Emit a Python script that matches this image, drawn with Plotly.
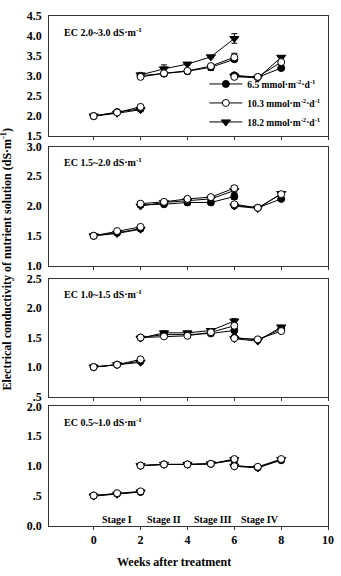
import plotly.graph_objects as go

W, H = 341, 576

# ---- data ----
weeks_s1 = [0, 1, 2]
weeks_s2 = [2, 3, 4, 5, 6]
weeks_s3 = [6, 7, 8]

series_names = ["6.5 mmol·m<sup>-2</sup>·d<sup>-1</sup>",
                "10.3 mmol·m<sup>-2</sup>·d<sup>-1</sup>",
                "18.2 mmol·m<sup>-2</sup>·d<sup>-1</sup>"]

panel_titles = ["EC 2.0~3.0 dS·m<sup>-1</sup>", "EC 1.5~2.0 dS·m<sup>-1</sup>",
                "EC 1.0~1.5 dS·m<sup>-1</sup>", "EC 0.5~1.0 dS·m<sup>-1</sup>"]

# Panel 1 (EC 2.0~3.0)
p1_s1 = [[2.00, 2.10, 2.18], [2.00, 2.09, 2.23], [2.00, 2.07, 2.16]]
p1_s2 = [[3.01, 3.06, 3.12, 3.22, 3.42], [2.98, 3.07, 3.13, 3.25, 3.47], [3.03, 3.18, 3.30, 3.48, 3.94]]
p1_s3 = [[3.02, 2.97, 3.20], [2.98, 2.98, 3.35], [3.00, 2.95, 3.47]]
p1_e2 = [[0.03, 0.07, 0.03, 0.08, 0.05], [0.03, 0.05, 0.03, 0.03, 0.10], [0.03, 0.10, 0.03, 0.03, 0.12]]
# Panel 2 (EC 1.5~2.0)
p2_s1 = [[1.50, 1.55, 1.62], [1.50, 1.58, 1.65], [1.50, 1.54, 1.61]]
p2_s2 = [[2.02, 2.03, 2.06, 2.06, 2.16], [2.04, 2.07, 2.12, 2.15, 2.30], [2.00, 2.06, 2.09, 2.12, 2.26]]
p2_s3 = [[2.01, 1.97, 2.12], [2.03, 1.97, 2.20], [2.00, 1.96, 2.21]]
p2_e2 = [[0.02, 0.03, 0.04, 0.02, 0.05], [0.02, 0.04, 0.02, 0.02, 0.04], [0.02, 0.03, 0.02, 0.02, 0.04]]
# Panel 3 (EC 1.0~1.5)
p3_s1 = [[1.00, 1.04, 1.10], [1.00, 1.04, 1.13], [1.00, 1.04, 1.08]]
p3_s2 = [[1.50, 1.55, 1.55, 1.57, 1.62], [1.50, 1.52, 1.53, 1.59, 1.70], [1.49, 1.58, 1.58, 1.62, 1.78]]
p3_s3 = [[1.50, 1.46, 1.65], [1.49, 1.47, 1.61], [1.48, 1.44, 1.68]]
p3_e2 = [[0.02, 0.02, 0.02, 0.02, 0.03], [0.02, 0.02, 0.02, 0.02, 0.04], [0.02, 0.03, 0.02, 0.02, 0.04]]
# Panel 4 (EC 0.5~1.0)
p4_s1 = [[0.51, 0.54, 0.57], [0.51, 0.55, 0.58], [0.50, 0.53, 0.57]]
p4_s2 = [[1.01, 1.03, 1.03, 1.04, 1.10], [1.01, 1.03, 1.03, 1.04, 1.12], [1.01, 1.03, 1.03, 1.04, 1.11]]
p4_s3 = [[1.01, 0.98, 1.10], [1.00, 0.99, 1.12], [1.00, 0.97, 1.11]]
p4_e2 = [[0.01, 0.01, 0.01, 0.01, 0.03], [0.01, 0.01, 0.01, 0.01, 0.03], [0.01, 0.01, 0.01, 0.01, 0.03]]

y_ticks = [[1.5, 2.0, 2.5, 3.0, 3.5, 4.0, 4.5], [1.0, 1.5, 2.0, 2.5, 3.0],
           [0.5, 1.0, 1.5, 2.0, 2.5], [0.0, 0.5, 1.0, 1.5, 2.0]]
y_ticktext = [["1.5", "2.0", "2.5", "3.0", "3.5", "4.0", "4.5"], ["1.0", "1.5", "2.0", "2.5", "3.0"],
              [".5", "1.0", "1.5", "2.0", "2.5"], ["0.0", ".5", "1.0", "1.5", "2.0"]]
x_ticks = [0, 2, 4, 6, 8, 10]
stage_labels = ["Stage I", "Stage II", "Stage III", "Stage IV"]
stage_pos = [1.0, 3.0, 5.1, 7.1]

panels = [(p1_s1, p1_s2, p1_s3, p1_e2), (p2_s1, p2_s2, p2_s3, p2_e2),
          (p3_s1, p3_s2, p3_s3, p3_e2), (p4_s1, p4_s2, p4_s3, p4_e2)]

# ---- layout geometry (pixels) ----
x_left, x_right = 50, 334
panel_px = [(9.3, 132.3), (143, 265), (278.3, 399.3), (409.3, 532)]
FONT = "Liberation Serif"

markers = [dict(symbol="circle", size=7, color="black", line=dict(color="black", width=1)),
           dict(symbol="circle", size=7, color="white", line=dict(color="black", width=1)),
           dict(symbol="triangle-down", size=8, color="black", line=dict(color="black", width=1))]

fig = go.Figure()
order = [2, 0, 1]
for pi, (s1, s2, s3, e2) in enumerate(panels):
    xa = "x" if pi == 0 else f"x{pi+1}"
    ya = "y" if pi == 0 else f"y{pi+1}"
    for k in order:
        for seg, (xs, ys) in enumerate([(weeks_s1, s1[k]), (weeks_s2, s2[k]), (weeks_s3, s3[k])]):
            err = None
            if seg == 1:
                err = dict(type="data", array=e2[k], color="black", thickness=1, width=3)
            fig.add_trace(go.Scatter(
                x=xs, y=ys, mode="lines+markers", xaxis=xa, yaxis=ya,
                line=dict(color="black", width=1), marker=markers[k],
                error_y=err, name=series_names[k],
                showlegend=(pi == 0 and seg == 0), legendrank=k + 1,
            ))

layout = dict(width=W, height=H, margin=dict(l=0, r=0, t=0, b=0),
              paper_bgcolor="white", plot_bgcolor="white",
              font=dict(family=FONT, color="black", size=12, weight="bold"),
              legend=dict(x=208 / W, y=1 - 64 / H, xanchor="left", yanchor="top",
                          bgcolor="rgba(0,0,0,0)", borderwidth=0,
                          font=dict(size=9.5, family=FONT, weight="bold"),
                          itemwidth=33, tracegroupgap=0, traceorder="normal"),
              annotations=[], showlegend=True)

for pi in range(4):
    top, bot = panel_px[pi]
    suffix = "" if pi == 0 else str(pi + 1)
    layout["xaxis" + suffix] = dict(
        domain=[x_left / W, x_right / W], range=[-1.9, 10], anchor="y" + suffix,
        tickvals=x_ticks, ticktext=[str(t) for t in x_ticks], showticklabels=(pi == 3),
        ticks="outside", ticklen=3, tickcolor="#333", showline=True, linecolor="#333",
        linewidth=1, mirror=True, showgrid=False, zeroline=False,
        tickfont=dict(size=12, family=FONT, weight="bold"),
    )
    layout["yaxis" + suffix] = dict(
        domain=[1 - bot / H, 1 - top / H], range=[y_ticks[pi][0], y_ticks[pi][-1]],
        anchor="x" + suffix, tickvals=y_ticks[pi], ticktext=y_ticktext[pi],
        ticks="", showline=True, linecolor="#333", linewidth=1, mirror=True,
        showgrid=False, zeroline=False, ticklabelstandoff=4,
        tickfont=dict(size=12, family=FONT, weight="bold"),
    )
    layout["annotations"].append(dict(
        text=panel_titles[pi], xref="paper", yref="paper",
        x=63 / W, y=1 - (top + 16) / H, xanchor="left", yanchor="middle",
        showarrow=False, font=dict(size=10, family=FONT, weight="bold")))

for lab, pos in zip(stage_labels, stage_pos):
    layout["annotations"].append(dict(
        text=lab, xref="x4", yref="y4", x=pos, y=0.0, yshift=7, xanchor="center",
        yanchor="middle", showarrow=False, font=dict(size=10, family=FONT, weight="bold")))

layout["annotations"].append(dict(
    text="Weeks after treatment", xref="paper", yref="paper", x=177 / W, y=1 - 569 / H,
    xanchor="center", yanchor="middle", showarrow=False,
    font=dict(size=12, family=FONT, weight="bold")))
layout["annotations"].append(dict(
    text="Electrical conductivity of nutrient solution (dS·m<sup>-1</sup>)", xref="paper",
    yref="paper", x=7 / W, y=1 - 258 / H, xanchor="center", yanchor="middle",
    textangle=-90, showarrow=False, font=dict(size=12, family=FONT, weight="bold")))

fig.update_layout(**layout)
fig.write_html("out.html")
